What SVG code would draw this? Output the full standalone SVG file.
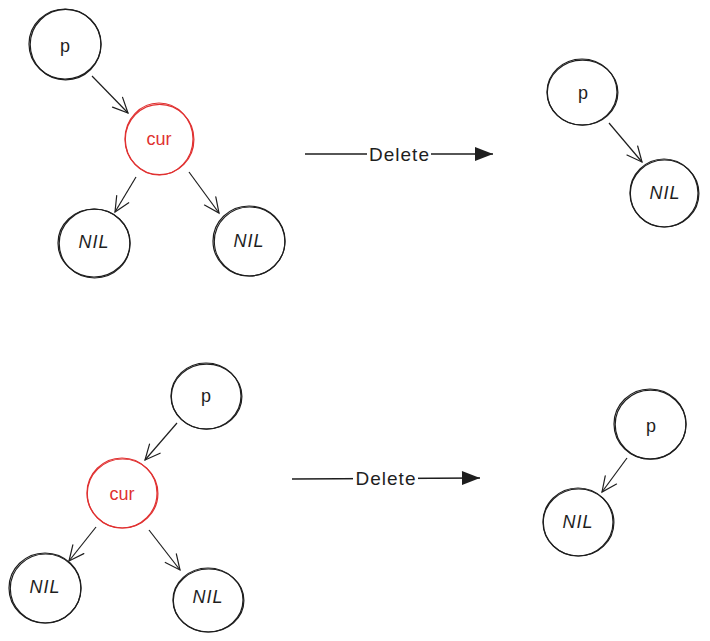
<svg xmlns="http://www.w3.org/2000/svg" width="710" height="641" viewBox="0 0 710 641">
<defs>
<style>
.n{fill:none;stroke:#1e1e1e;stroke-width:1.2}
.r{fill:none;stroke:#e03131;stroke-width:1.2}
.t{font-family:"Liberation Sans",Arial,sans-serif;font-size:18px;fill:#1e1e1e;text-anchor:middle;dominant-baseline:central}
.nil{font-style:italic;letter-spacing:1px}
.tr{fill:#e03131}
.c{fill:none;stroke:#1e1e1e;stroke-width:1.2}
.d{fill:none;stroke:#1e1e1e;stroke-width:1.6}
.lbl{font-family:"Liberation Sans",Arial,sans-serif;font-size:19px;letter-spacing:1px;fill:#1e1e1e;text-anchor:middle;dominant-baseline:central}
</style>
<marker id="open" viewBox="-20 -10 22 20" refX="0" refY="0" markerWidth="22" markerHeight="20" markerUnits="userSpaceOnUse" orient="auto">
<path d="M-15,-7 L0,0 L-15,7" fill="none" stroke="#1e1e1e" stroke-width="1.2" stroke-linecap="round"/>
</marker>
<marker id="solid" viewBox="-20 -10 22 20" refX="0" refY="0" markerWidth="22" markerHeight="20" markerUnits="userSpaceOnUse" orient="auto">
<path d="M-18,-7 L0,0 L-18,7 Z" fill="#1e1e1e"/>
</marker>
</defs>

<g id="connectors">
<path class="c" d="M92,76 L128,113" marker-end="url(#open)"/>
<path class="c" d="M136,177 L115,212" marker-end="url(#open)"/>
<path class="c" d="M189,172 L219,213" marker-end="url(#open)"/>
<path class="c" d="M609,123 L642,162" marker-end="url(#open)"/>
<path class="c" d="M177,423 L145,460" marker-end="url(#open)"/>
<path class="c" d="M96,527 L69,561" marker-end="url(#open)"/>
<path class="c" d="M149,530 L180,570" marker-end="url(#open)"/>
<path class="c" d="M627,458 L602,492" marker-end="url(#open)"/>
<path class="d" d="M305,154 L493,154" marker-end="url(#solid)"/>
<rect x="367" y="142" width="64" height="24" fill="#ffffff"/>
<text class="lbl" x="399.5" y="154">Delete</text>
<path class="d" d="M292,479 L480,478" marker-end="url(#solid)"/>
<rect x="353" y="466" width="65" height="24" fill="#ffffff"/>
<text class="lbl" x="386" y="478">Delete</text>
</g>

<g id="p1">
<ellipse class="n" cx="65" cy="44" rx="36" ry="35"/>
<ellipse class="n" cx="65.6" cy="44.6" rx="35.4" ry="35.2"/>
<text class="t" x="65" y="46">p</text>
</g>
<g id="cur1">
<ellipse class="r" cx="159" cy="139" rx="34" ry="36"/>
<ellipse class="r" cx="159.6" cy="139.5" rx="34.3" ry="35.2"/>
<text class="t tr" x="159" y="139">cur</text>
</g>
<g id="nil1">
<ellipse class="n" cx="94" cy="243" rx="36" ry="34"/>
<ellipse class="n" cx="94.6" cy="243.6" rx="35.4" ry="34.4"/>
<text class="t nil" x="94" y="242">NIL</text>
</g>
<g id="nil2">
<ellipse class="n" cx="249" cy="241" rx="36" ry="35"/>
<ellipse class="n" cx="249.6" cy="241.5" rx="35.3" ry="34.5"/>
<text class="t nil" x="249" y="241">NIL</text>
</g>
<g id="p2">
<ellipse class="n" cx="582" cy="92" rx="35" ry="33"/>
<ellipse class="n" cx="582.6" cy="92.6" rx="35.3" ry="32.5"/>
<text class="t" x="583" y="93">p</text>
</g>
<g id="nil3">
<ellipse class="n" cx="664" cy="193" rx="34" ry="34"/>
<ellipse class="n" cx="664.6" cy="193.5" rx="34.3" ry="33.5"/>
<text class="t nil" x="665" y="193">NIL</text>
</g>
<g id="p3">
<ellipse class="n" cx="206" cy="396" rx="35" ry="33"/>
<ellipse class="n" cx="206.6" cy="396.6" rx="35.3" ry="32.5"/>
<text class="t" x="206" y="396">p</text>
</g>
<g id="cur2">
<ellipse class="r" cx="122" cy="493" rx="35" ry="35"/>
<ellipse class="r" cx="122.6" cy="493.5" rx="35.3" ry="34.5"/>
<text class="t tr" x="122" y="494">cur</text>
</g>
<g id="nil4">
<ellipse class="n" cx="45" cy="588" rx="36" ry="35"/>
<ellipse class="n" cx="45.6" cy="588.5" rx="35.3" ry="34.5"/>
<text class="t nil" x="45" y="587">NIL</text>
</g>
<g id="nil5">
<ellipse class="n" cx="208" cy="600" rx="35" ry="32"/>
<ellipse class="n" cx="208.6" cy="600.5" rx="35.3" ry="31.5"/>
<text class="t nil" x="208" y="597">NIL</text>
</g>
<g id="p4">
<ellipse class="n" cx="650" cy="424" rx="36" ry="35"/>
<ellipse class="n" cx="650.6" cy="424.6" rx="35.4" ry="34.5"/>
<text class="t" x="651" y="426">p</text>
</g>
<g id="nil6">
<ellipse class="n" cx="578" cy="522" rx="35" ry="34"/>
<ellipse class="n" cx="578.6" cy="522.5" rx="35.3" ry="33.5"/>
<text class="t nil" x="578" y="522">NIL</text>
</g>
</svg>
